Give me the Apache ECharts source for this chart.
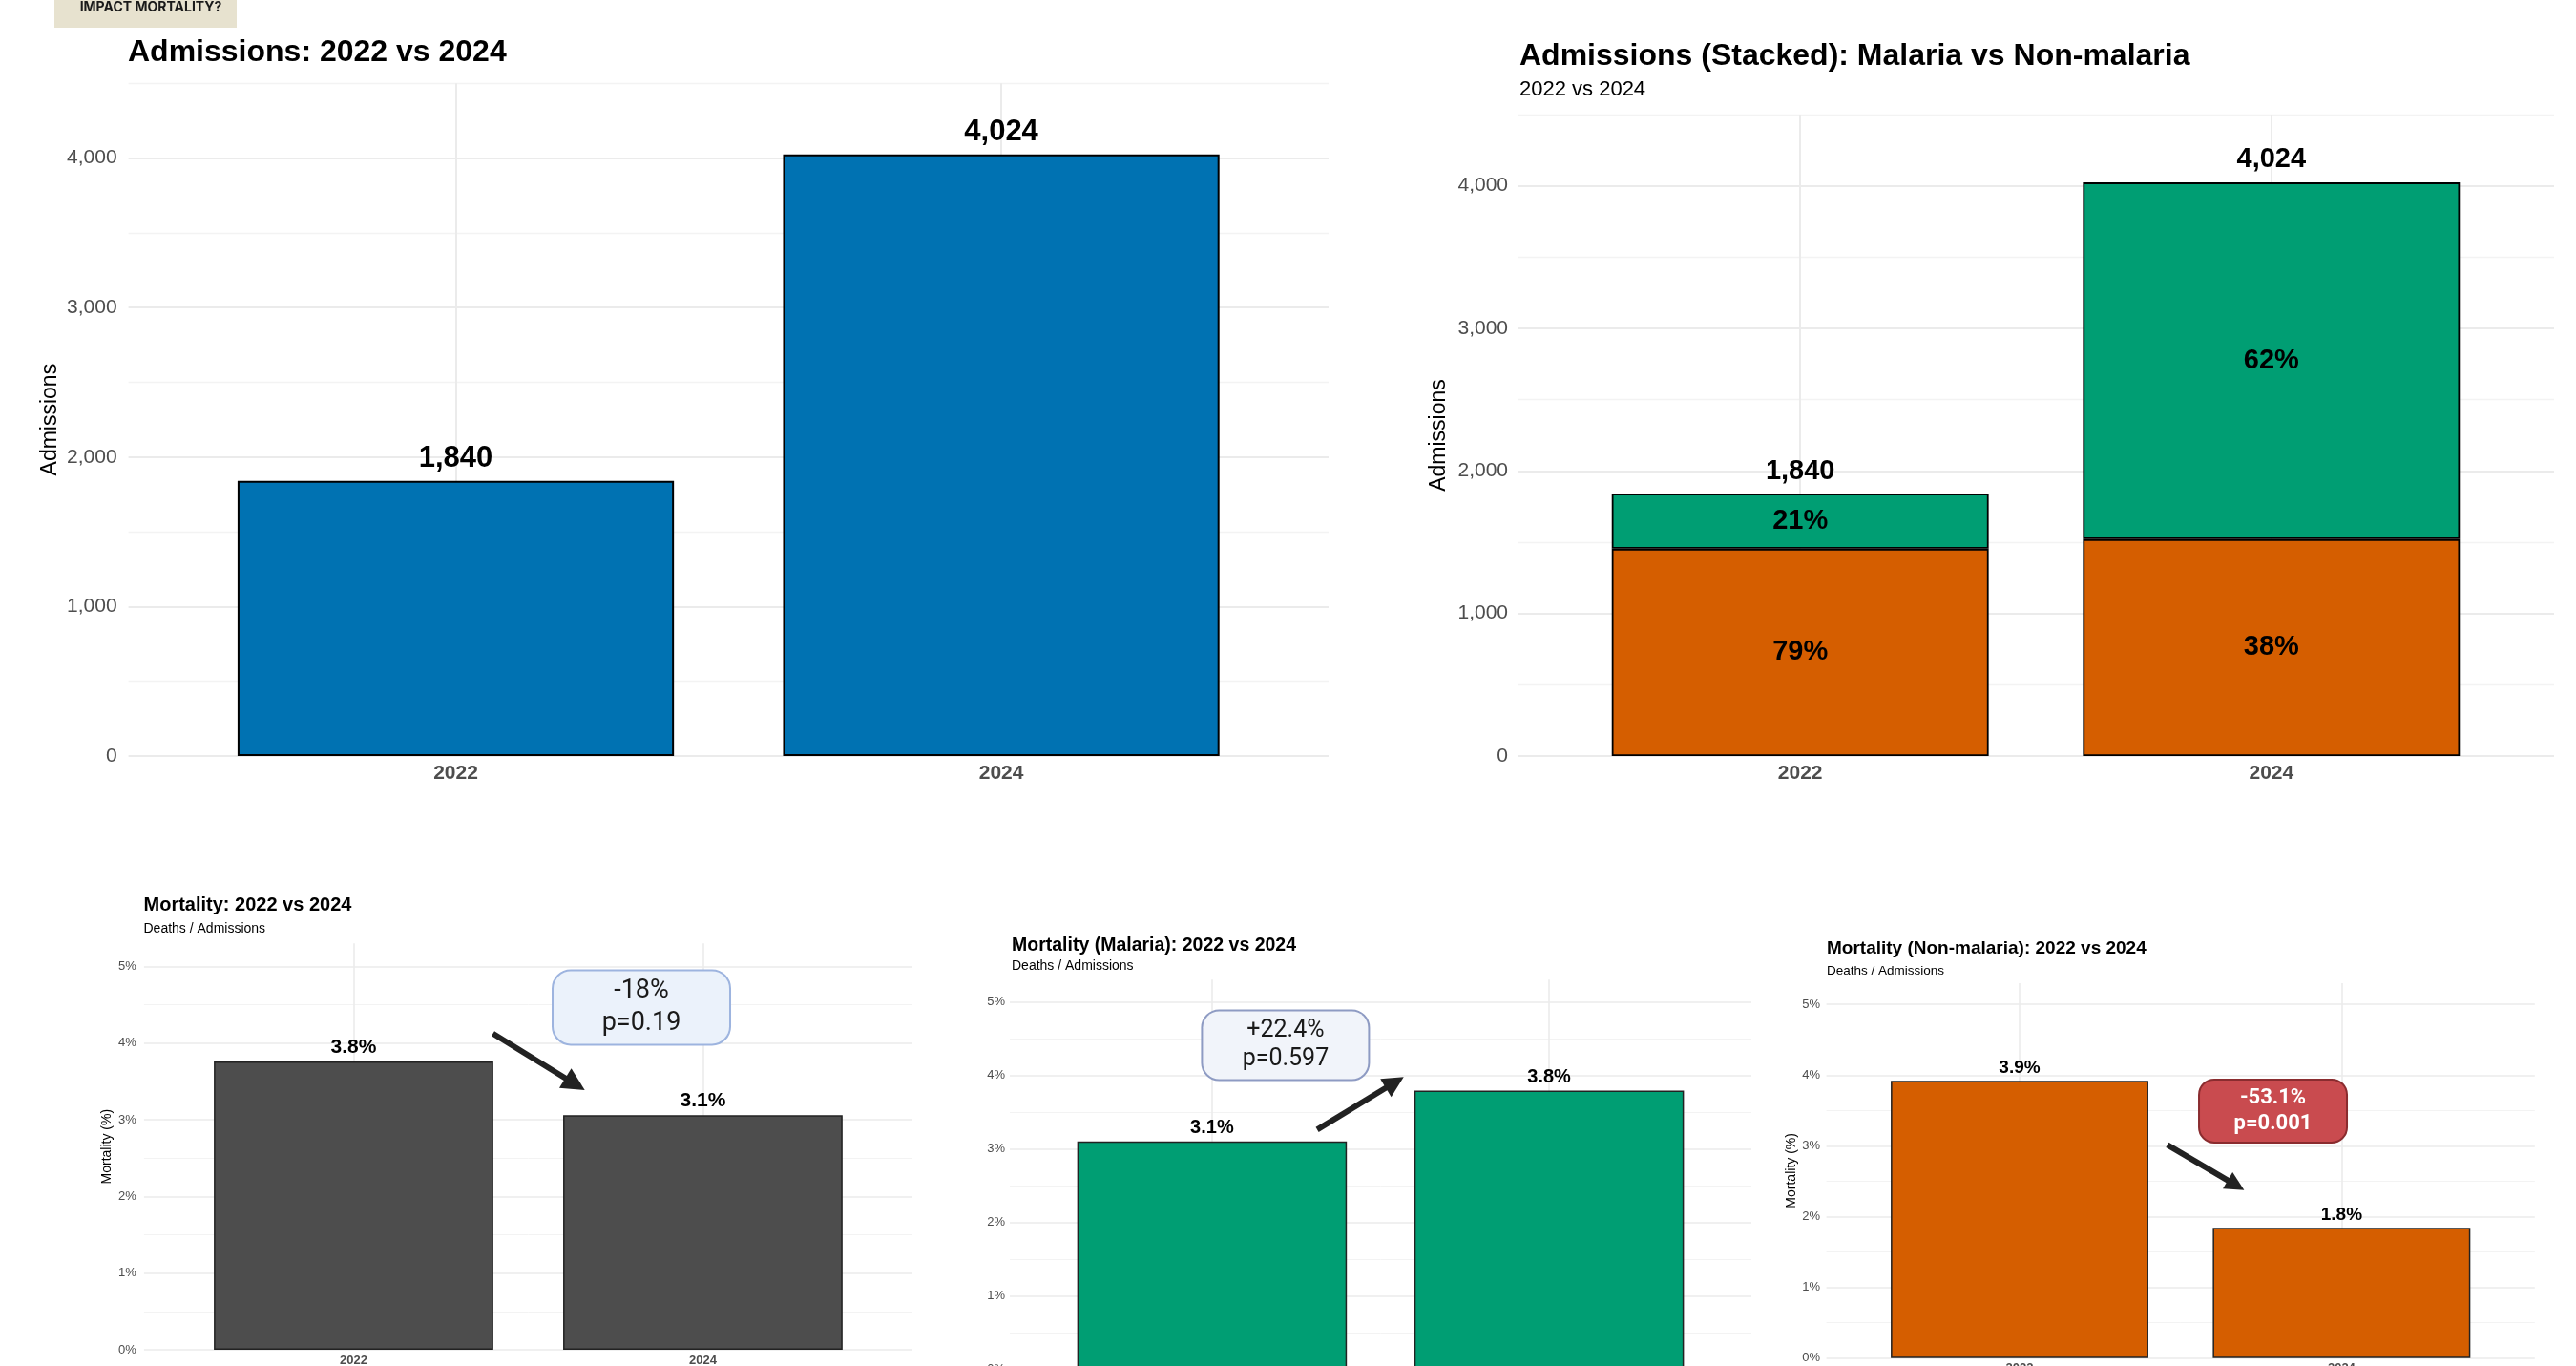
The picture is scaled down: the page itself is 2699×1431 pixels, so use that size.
<!DOCTYPE html>
<html><head><meta charset="utf-8">
<script src="https://cdn.jsdelivr.net/npm/echarts@6/dist/echarts.min.js"></script>
<style>html,body{margin:0;padding:0;background:#fff}#c{width:2699px;height:1431px}</style>
</head><body><div id="c"></div>
<script>
// ---------------- DATA ----------------
const years = ['2022', '2024'];
const admissions = [1840, 4024];
const admNonMalaria = [1454, 1521];
const admMalaria = [386, 2503];
const mortAll = [3.76, 3.06];
const mortMalaria = [3.10, 3.79];
const mortNonMalaria = [3.92, 1.84];
const admTicks = [0, 1000, 2000, 3000, 4000];
const pctTicks = [0, 1, 2, 3, 4, 5];
const changeText = ['-18%', '+22.4%', '-53.1%'];
const pText = ['p=0.19', 'p=0.597', 'p=0.001'];

// ---------------- LAYOUT / STYLE ----------------
const FONT = "'Liberation Sans', Arial, Helvetica, sans-serif";
const MAJ = '#EBEBEB', MIN = '#F3F3F3', TR = 'rgba(0,0,0,0)';
const C_BLUE = '#0072B2', C_GREEN = '#009E73', C_ORANGE = '#D55E00', C_GREY = '#4D4D4D';

const panels = [
  {left:134.6, top:87.3, width:1257.4, height:704.7, ymax:4500, major:1000, minor:500, ticks:admTicks,
   fmt:v=>v.toLocaleString('en-US'), tickFont:21, xFont:21, xMargin:8, yMargin:12, gridW:2, minW:1.3,
   yName:'Admissions', yNameSize:23, yNameGap:70},
  {left:1590, top:120, width:1086, height:672, ymax:4500, major:1000, minor:500, ticks:admTicks,
   fmt:v=>v.toLocaleString('en-US'), tickFont:21, xFont:21, xMargin:8, yMargin:10, gridW:2, minW:1.3,
   yName:'Admissions', yNameSize:23, yNameGap:71},
  {left:150.9, top:988.2, width:805.1, height:425.9, ymax:5.3, major:1, minor:0.5, ticks:pctTicks,
   fmt:v=>v+'%', tickFont:13, xFont:13, xMargin:5, yMargin:8, gridW:1.6, minW:1,
   yName:'Mortality (%)', yNameSize:14, yNameGap:32},
  {left:1058, top:1026.2, width:777, height:408.6, ymax:5.3, major:1, minor:0.5, ticks:pctTicks,
   fmt:v=>v+'%', tickFont:13, xFont:13, xMargin:5, yMargin:5, gridW:1.6, minW:1,
   yName:'', yNameSize:14, yNameGap:30},
  {left:1913.6, top:1030, width:742.2, height:392.7, ymax:5.3, major:1, minor:0.5, ticks:pctTicks,
   fmt:v=>v+'%', tickFont:13, xFont:13, xMargin:4, yMargin:6.6, gridW:1.6, minW:1,
   yName:'Mortality (%)', yNameSize:14, yNameGap:26.6}
];

const titles = [
  {text:'Admissions: 2022 vs 2024', left:134, top:39.5, size:32, bold:true},
  {text:'Admissions (Stacked): Malaria vs Non-malaria', left:1592, top:42.7, size:32, bold:true},
  {text:'2022 vs 2024', left:1592, top:82.5, size:22, bold:false},
  {text:'Mortality: 2022 vs 2024', left:150.5, top:938.8, size:20, bold:true},
  {text:'Deaths / Admissions', left:150.5, top:966, size:14, bold:false},
  {text:'Mortality (Malaria): 2022 vs 2024', left:1060, top:980.4, size:19.5, bold:true},
  {text:'Deaths / Admissions', left:1060, top:1005, size:14, bold:false},
  {text:'Mortality (Non-malaria): 2022 vs 2024', left:1914, top:984.5, size:19, bold:true},
  {text:'Deaths / Admissions', left:1914, top:1010, size:13.5, bold:false}
];

// ---------------- BUILD ----------------
const grids = [], xAxes = [], yAxes = [];
panels.forEach((p, i) => {
  grids.push({left:p.left, top:p.top, width:p.width, height:p.height, containLabel:false, outerBoundsMode:'none'});
  const xc = [];
  for (let k = 0; k < 12; k++) xc.push(k === 3 || k === 8 ? MAJ : TR);
  xAxes.push({
    type:'value', gridIndex:i, min:0.4, max:2.6, interval:0.2,
    axisLine:{show:false}, axisTick:{show:false},
    axisLabel:{margin:p.xMargin, fontSize:p.xFont, fontWeight:'bold', color:C_GREY, fontFamily:FONT,
      formatter:v => { const r = Math.round(v); return (Math.abs(v - r) < 1e-6 && r >= 1 && r <= years.length) ? years[r-1] : ''; }},
    splitLine:{show:true, lineStyle:{color:xc, width:p.gridW}}
  });
  const nMaj = Math.floor(p.ymax / p.major + 1e-9) + 1;
  const majC = []; for (let k = 0; k < nMaj; k++) majC.push(MAJ); majC.push(TR);
  const nMin = Math.floor(p.ymax / p.minor + 1e-9) + 1;
  const minC = []; for (let k = 0; k < nMin; k++) minC.push(k % 2 === 1 ? MIN : TR); minC.push(TR);
  yAxes.push({
    type:'value', gridIndex:i, min:0, max:p.ymax, interval:p.major,
    axisLine:{show:false}, axisTick:{show:false},
    axisLabel:{margin:p.yMargin, fontSize:p.tickFont, color:C_GREY, fontFamily:FONT,
      formatter:v => p.ticks.some(t => Math.abs(t - v) < 1e-9) ? p.fmt(v) : ''},
    splitLine:{show:true, lineStyle:{color:majC, width:p.gridW}},
    name:p.yName, nameLocation:'middle', nameGap:p.yNameGap,
    nameTextStyle:{fontSize:p.yNameSize, color:'#000', fontFamily:FONT}
  });
  yAxes.push({
    type:'value', gridIndex:i, min:0, max:p.ymax, interval:p.minor, position:'left',
    axisLine:{show:false}, axisTick:{show:false}, axisLabel:{show:false},
    splitLine:{show:true, lineStyle:{color:minC, width:p.minW}}
  });
});
// extra grid for the stacked bars of panel B (category axis, same band geometry as the frame)
const pB = panels[1];
grids.push({left:pB.left + pB.width * 0.1 / 2.2, top:pB.top, width:pB.width * 2 / 2.2, height:pB.height, containLabel:false, outerBoundsMode:'none'});
xAxes.push({type:'category', gridIndex:5, data:years, show:false});
yAxes.push({type:'value', gridIndex:5, min:0, max:pB.ymax, show:false, splitLine:{show:false}});

const bw = i => 0.8 * panels[i].width / 2.2;
const pts = arr => arr.map((v, k) => [k + 1, v]);
const series = [];

// Panel A
series.push({
  type:'bar', xAxisIndex:0, yAxisIndex:0, barWidth:bw(0), data:pts(admissions),
  itemStyle:{color:C_BLUE, borderColor:'#000', borderWidth:2},
  label:{show:true, position:'top', distance:7.5, fontSize:31, fontWeight:'bold', color:'#000', fontFamily:FONT,
    formatter:d => d.value[1].toLocaleString('en-US')}
});
// Panel B (stacked)
const pctLabel = (arr) => (d => Math.round(arr[d.dataIndex] / (admNonMalaria[d.dataIndex] + admMalaria[d.dataIndex]) * 100) + '%');
series.push({
  type:'bar', xAxisIndex:5, yAxisIndex:10, barWidth:bw(1), stack:'adm', data:admNonMalaria.slice(),
  itemStyle:{color:C_ORANGE, borderColor:'#000', borderWidth:1.8},
  label:{show:true, position:'inside', fontSize:29, fontWeight:'bold', color:'#000', fontFamily:FONT, formatter:pctLabel(admNonMalaria)}
});
series.push({
  type:'bar', xAxisIndex:5, yAxisIndex:10, barWidth:bw(1), stack:'adm', data:admMalaria.slice(),
  itemStyle:{color:C_GREEN, borderColor:'#000', borderWidth:1.8},
  label:{show:true, position:'inside', fontSize:29, fontWeight:'bold', color:'#000', fontFamily:FONT, formatter:pctLabel(admMalaria)},
  markPoint:{
    symbol:'rect', symbolSize:1, itemStyle:{color:TR}, silent:true,
    label:{show:true, position:'top', distance:8.6, fontSize:29, fontWeight:'bold', color:'#000', fontFamily:FONT,
      formatter:d => d.value.toLocaleString('en-US')},
    data:years.map((y, k) => ({coord:[y, admNonMalaria[k] + admMalaria[k]], value:admNonMalaria[k] + admMalaria[k]}))
  }
});

// Mortality panels
const mortCfg = [
  {vals:mortAll, color:C_GREY, dist:4.5, font:21,
   box:[1.824, 4.464], from:[1.399, 4.123], to:[1.634, 3.463], head:24,
   boxStyle:{fontFamily:'Roboto', fontSize:27, lineHeight:34, color:'#1a1a1a', backgroundColor:'#EBF2FB', borderColor:'#9DB4DF', borderWidth:2, borderRadius:18, padding:[4,0], width:184}},
  {vals:mortMalaria, color:C_GREEN, dist:4.3, font:20,
   box:[1.218, 4.407], from:[1.312, 3.262], to:[1.542, 3.901], head:22,
   boxStyle:{fontFamily:'Roboto', fontSize:25, lineHeight:30, color:'#1a1a1a', backgroundColor:'#F1F4FA', borderColor:'#8E9BC3', borderWidth:2, borderRadius:17, padding:[5.5,0], width:173}},
  {vals:mortNonMalaria, color:C_ORANGE, dist:3.7, font:19,
   box:[1.787, 3.493], from:[1.459, 3.015], to:[1.672, 2.444], head:20,
   boxStyle:{fontFamily:'Roboto', fontSize:22, fontWeight:'bold', lineHeight:27, color:'#fff', backgroundColor:'#C94B4F', borderColor:'#8A2C2F', borderWidth:2, borderRadius:15, padding:[5,0], width:153}}
];
mortCfg.forEach((m, j) => {
  const gi = j + 2;
  series.push({
    type:'bar', xAxisIndex:gi, yAxisIndex:gi * 2, barWidth:bw(gi), data:pts(m.vals),
    itemStyle:{color:m.color, borderColor:'#222', borderWidth:1.5},
    label:{show:true, position:'top', distance:m.dist, fontSize:m.font, fontWeight:'bold', color:'#000', fontFamily:FONT,
      formatter:d => d.value[1].toFixed(1) + '%'},
    markLine:{
      silent:true, symbol:['none', 'triangle'], symbolSize:m.head,
      lineStyle:{color:'#222', width:6, type:'solid', opacity:1}, itemStyle:{color:'#222'}, label:{show:false},
      data:[[{coord:m.from, symbol:'none'}, {coord:m.to, symbol:'triangle', symbolSize:m.head}]]
    },
    markPoint:{
      symbol:'rect', symbolSize:1, itemStyle:{color:TR}, silent:true,
      label:Object.assign({show:true, position:'inside', align:'center', verticalAlign:'middle',
        formatter:changeText[j] + '\n' + pText[j]}, m.boxStyle),
      data:[{coord:m.box, value:0}]
    }
  });
});

const option = {
  animation:false,
  backgroundColor:'#fff',
  title:titles.map(t => ({text:t.text, left:t.left, top:t.top, padding:0,
    textStyle:{fontSize:t.size, fontWeight:t.bold ? 'bold' : 'normal', color:'#000', fontFamily:FONT}})),
  grid:grids, xAxis:xAxes, yAxis:yAxes, series:series,
  graphic:[
    {type:'rect', shape:{x:57, y:-10, width:191, height:39}, style:{fill:'#E7E2CF'}, silent:true},
    {type:'text', x:158, y:8, silent:true, style:{text:'IMPACT MORTALITY?', fontSize:14, fontWeight:'bold', fontFamily:"Inter, 'Liberation Sans', sans-serif",
      fill:'#1a1a1a', align:'center', verticalAlign:'middle', textAlign:'center', textVerticalAlign:'middle'}}
  ]
};
const chart = echarts.init(document.getElementById('c'), null, {renderer:'canvas', width:2699, height:1431});
chart.setOption(option);
</script>
</body></html>
